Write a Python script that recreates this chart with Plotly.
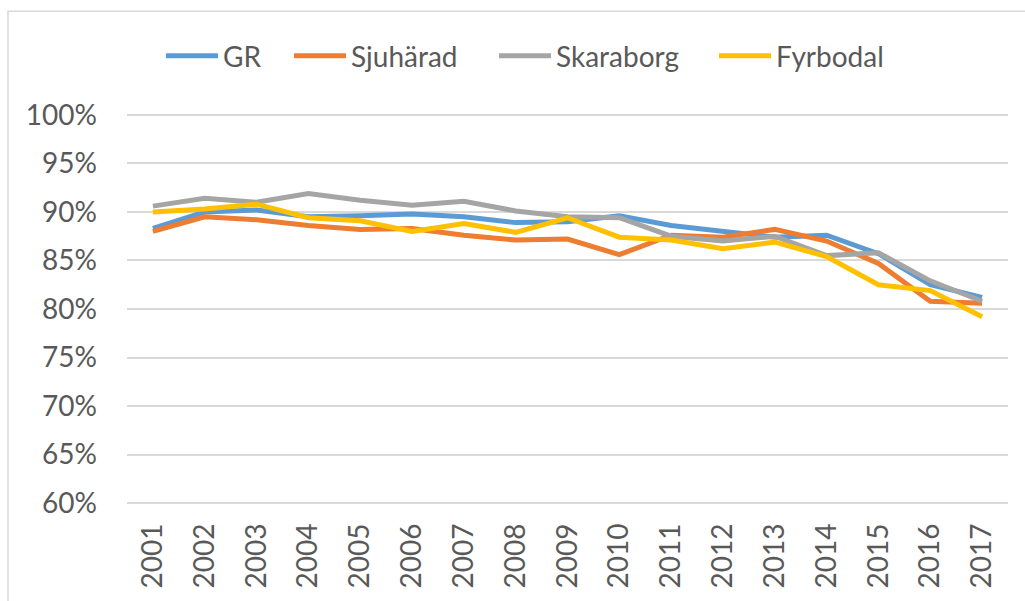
import plotly.graph_objects as go

years = list(range(2001, 2018))
series_names = ["GR", "Sjuhärad", "Skaraborg", "Fyrbodal"]
gr = [0.883, 0.900, 0.902, 0.895, 0.896, 0.898, 0.895, 0.889, 0.890, 0.896, 0.886, 0.880, 0.874, 0.876, 0.857, 0.825, 0.812]
sjuharad = [0.880, 0.895, 0.892, 0.886, 0.882, 0.883, 0.876, 0.871, 0.872, 0.856, 0.876, 0.874, 0.882, 0.870, 0.847, 0.808, 0.806]
skaraborg = [0.906, 0.914, 0.910, 0.919, 0.912, 0.907, 0.911, 0.901, 0.895, 0.894, 0.875, 0.870, 0.875, 0.855, 0.858, 0.829, 0.808]
fyrbodal = [0.900, 0.903, 0.908, 0.894, 0.891, 0.880, 0.888, 0.879, 0.894, 0.874, 0.871, 0.862, 0.869, 0.854, 0.825, 0.819, 0.792]
colors = ["#5B9BD5", "#ED7D31", "#A5A5A5", "#FFC000"]
y_ticks = [0.60, 0.65, 0.70, 0.75, 0.80, 0.85, 0.90, 0.95, 1.00]
y_tick_labels = ["60%", "65%", "70%", "75%", "80%", "85%", "90%", "95%", "100%"]

FONT = "Lato"
TXT = "#595959"
W, H = 1025, 601
L, R, T, B = 127, 17, 111, 89
pw, ph = W - L - R, H - T - B

def px_x(px):
    return (px - L) / pw

def px_y(py):
    return (H - B - py) / ph

fig = go.Figure()
for name, vals, c in zip(series_names, [gr, sjuharad, skaraborg, fyrbodal], colors):
    fig.add_trace(go.Scatter(x=years, y=vals, name=name, mode="lines",
                             line=dict(color=c, width=5), showlegend=False))

# custom legend (line samples + labels)
legend_x = [164, 292, 497, 717]
legend_y = 55
shapes = []
annotations = []
for name, c, lx in zip(series_names, colors, legend_x):
    shapes.append(dict(type="line", xref="paper", yref="paper",
                       x0=px_x(lx + 2), x1=px_x(lx + 54), y0=px_y(legend_y), y1=px_y(legend_y),
                       line=dict(color=c, width=5)))
    annotations.append(dict(text=name, xref="paper", yref="paper", x=px_x(lx + 57), y=px_y(legend_y),
                            xanchor="left", yanchor="middle", showarrow=False,
                            font=dict(family=FONT, size=28, color=TXT)))

# chart border
shapes.append(dict(type="rect", xref="paper", yref="paper", layer="below",
                   x0=px_x(8), x1=px_x(1040), y0=px_y(10), y1=px_y(620),
                   line=dict(color="#d9d9d9", width=1.5), fillcolor="rgba(0,0,0,0)"))

fig.update_layout(
    width=W, height=H,
    margin=dict(l=L, r=R, t=T, b=B),
    paper_bgcolor="white", plot_bgcolor="white",
    shapes=shapes, annotations=annotations,
    xaxis=dict(range=[2000.5, 2017.5], tickmode="array", tickvals=years,
               ticktext=[str(y) for y in years], tickangle=-90,
               showgrid=False, zeroline=False, showline=False, ticks="",
               ticklabelstandoff=10,
               tickfont=dict(family=FONT, size=28, color=TXT)),
    yaxis=dict(range=[0.596, 1.004], tickmode="array", tickvals=y_ticks, ticktext=y_tick_labels,
               showgrid=True, gridcolor="#d9d9d9", gridwidth=1.5, zeroline=False,
               showline=False, ticks="", ticklabelstandoff=29,
               tickfont=dict(family=FONT, size=28, color=TXT)),
)

fig.write_html("out.html", config={"displayModeBar": False},
               post_script="document.body.style.margin='0';document.body.style.overflow='hidden';")
